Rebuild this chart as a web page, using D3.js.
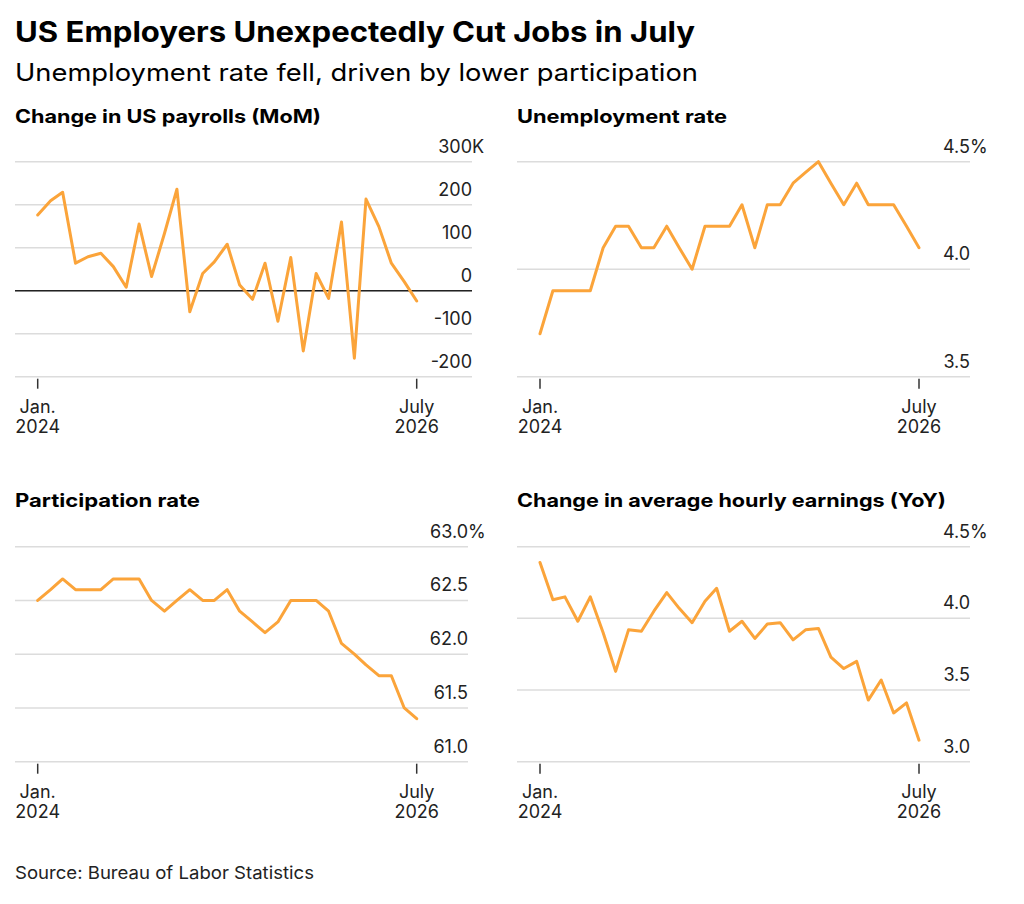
<!DOCTYPE html>
<html><head><meta charset="utf-8">
<script src="https://cdn.jsdelivr.net/npm/d3@7"></script>
<style>body{margin:0;background:#fff;font-family:Inter,"Liberation Sans",Arial,sans-serif;}</style>
</head><body>
<svg id="c" width="1024" height="904"></svg>
<script>
const months = d3.range(31).map(i => new Date(2024, i, 1));
const payrolls = [176,209,229,64,79,87,56,8,155,33,133,236,-49,40,67,108,13,-20,64,-71,77,-140,40,-18,160,-157,213,149,64,21,-24];
const unemployment = [3.7,3.9,3.9,3.9,3.9,4.1,4.2,4.2,4.1,4.1,4.2,4.1,4.0,4.2,4.2,4.2,4.3,4.1,4.3,4.3,4.4,4.45,4.5,4.4,4.3,4.4,4.3,4.3,4.3,4.2,4.1];
const participation = [62.5,62.6,62.7,62.6,62.6,62.6,62.7,62.7,62.7,62.5,62.4,62.5,62.6,62.5,62.5,62.6,62.4,62.3,62.2,62.3,62.5,62.5,62.5,62.4,62.1,62.0,61.9,61.8,61.8,61.5,61.4];
const earnings = [4.39,4.13,4.15,3.98,4.15,3.90,3.63,3.92,3.91,4.05,4.18,4.07,3.97,4.12,4.21,3.91,3.98,3.86,3.96,3.97,3.85,3.92,3.93,3.73,3.65,3.70,3.43,3.57,3.34,3.41,3.15];
const payrollTicks = [-200,-100,0,100,200,300];
const unempTicks = [3.5,4.0,4.5];
const partTicks = [61.0,61.5,62.0,62.5,63.0];
const earnTicks = [3.0,3.5,4.0,4.5];

const svg = d3.select("#c");
const font = 'Inter,"Liberation Sans",Arial,sans-serif';
svg.append("text").attr("x",15).attr("y",42).attr("font-size",28).attr("font-weight",700).attr("fill","#000").attr("font-family",font).attr("textLength",680).attr("lengthAdjust","spacingAndGlyphs").text("US Employers Unexpectedly Cut Jobs in July");
svg.append("text").attr("x",15).attr("y",81).attr("font-size",24).attr("fill","#000").attr("font-family",font).attr("textLength",683).attr("lengthAdjust","spacingAndGlyphs").text("Unemployment rate fell, driven by lower participation");
svg.append("text").attr("x",15).attr("y",879).attr("font-size",17.5).attr("fill","#222").attr("font-family",font).attr("textLength",299).attr("lengthAdjust","spacingAndGlyphs").text("Source: Bureau of Labor Statistics");

function panel(o){
  const g = svg.append("g").attr("font-family",font);
  g.append("text").attr("x",o.x0).attr("y",o.titleY).attr("font-size",18.5).attr("font-weight",700).attr("textLength",o.tl).attr("lengthAdjust","spacingAndGlyphs").text(o.title);
  const x = d3.scaleTime().domain([months[0],months[30]]).range([o.jan,o.jul]);
  const y = d3.scaleLinear().domain(o.domain).range([o.bottom,o.top]);
  o.ticks.forEach((t,i)=>{
    g.append("line").attr("x1",o.x0).attr("x2",o.x1).attr("y1",y(t)).attr("y2",y(t))
      .attr("stroke","#dcdcdc").attr("stroke-width",1.5);
    g.append("text").attr("x",o.x1).attr("y",y(t)-9).attr("text-anchor","end").attr("font-size",18).attr("fill","#222").text(o.fmt(t));
    if(i===o.ticks.length-1) g.append("text").attr("x",o.x1).attr("y",y(t)-9).attr("font-size",18).attr("fill","#222").text(o.suffix);
  });
  if(o.zero){ g.append("line").attr("x1",o.x0).attr("x2",o.x1).attr("y1",y(0)).attr("y2",y(0)).attr("stroke","#222").attr("stroke-width",1.5); }
  [[months[0],"Jan.","2024"],[months[30],"July","2026"]].forEach(([d,a,b])=>{
    g.append("line").attr("x1",x(d)).attr("x2",x(d)).attr("y1",o.bottom+2).attr("y2",o.bottom+12).attr("stroke","#333").attr("stroke-width",1.5);
    g.append("text").attr("x",x(d)).attr("y",o.bottom+36).attr("text-anchor","middle").attr("font-size",18).attr("fill","#222").text(a);
    g.append("text").attr("x",x(d)).attr("y",o.bottom+56).attr("text-anchor","middle").attr("font-size",18).attr("fill","#222").text(b);
  });
  g.append("path").datum(o.data).attr("fill","none").attr("stroke","#fba43a").attr("stroke-width",3).attr("stroke-linejoin","round").attr("stroke-linecap","round")
    .attr("d",d3.line().x((d,i)=>x(months[i])).y(d=>y(d)));
}
const topT=161.7, botT=376.7, topB=546.7, botB=761.7;
panel({title:"Change in US payrolls (MoM)",tl:306,titleY:123,x0:15,x1:472,jan:37.7,jul:416.7,top:topT,bottom:botT,domain:[-200,300],ticks:payrollTicks,fmt:d=>d,suffix:"K",zero:true,data:payrolls});
panel({title:"Unemployment rate",tl:210,titleY:123,x0:517,x1:970,jan:540,jul:919,top:topT,bottom:botT,domain:[3.5,4.5],ticks:unempTicks,fmt:d3.format(".1f"),suffix:"%",data:unemployment});
panel({title:"Participation rate",tl:185,titleY:507,x0:15,x1:468,jan:37.7,jul:416.7,top:topB,bottom:botB,domain:[61,63],ticks:partTicks,fmt:d3.format(".1f"),suffix:"%",data:participation});
panel({title:"Change in average hourly earnings (YoY)",tl:429,titleY:507,x0:517,x1:970,jan:540,jul:919,top:topB,bottom:botB,domain:[3,4.5],ticks:earnTicks,fmt:d3.format(".1f"),suffix:"%",data:earnings});
</script>
</body></html>
